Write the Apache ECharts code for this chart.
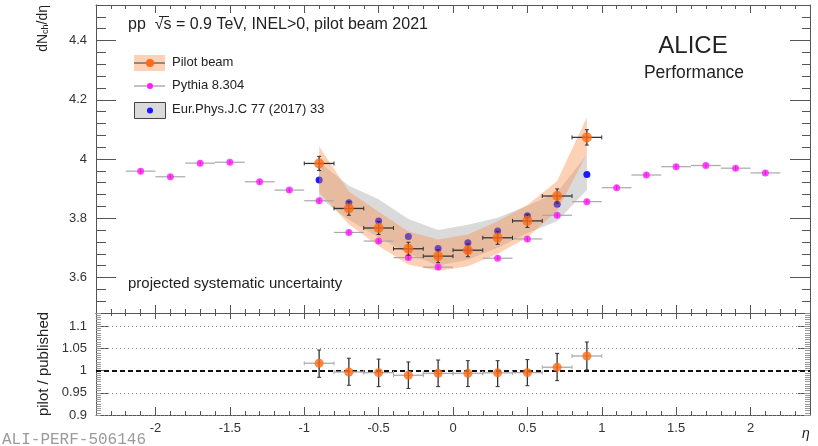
<!DOCTYPE html>
<html><head><meta charset="utf-8">
<script src="https://cdn.jsdelivr.net/npm/echarts@6/dist/echarts.min.js"></script>
<style>html,body{margin:0;padding:0;background:#fff}#c{width:818px;height:446px}</style>
</head><body><div id="c"></div>
<script>
// ---- data ----
const etaPilot = [-0.9,-0.7,-0.5,-0.3,-0.1,0.1,0.3,0.5,0.7,0.9];
const pilotVal = [3.985,3.833,3.767,3.697,3.672,3.692,3.734,3.791,3.875,4.073];
const pilotStat = [0.024,0.023,0.022,0.022,0.022,0.022,0.022,0.022,0.024,0.026];
const pilotSysUp = [4.043,3.890,3.822,3.755,3.728,3.745,3.790,3.845,3.926,4.141];
const pilotSysDown = [3.887,3.780,3.706,3.644,3.622,3.638,3.680,3.735,3.825,4.017];
const pubVal = [3.929,3.852,3.791,3.738,3.698,3.717,3.757,3.808,3.847,3.948];
const pubSysUp = [3.990,3.910,3.864,3.797,3.760,3.778,3.802,3.842,3.887,4.015];
const pubSysDown = [3.870,3.795,3.735,3.680,3.640,3.660,3.700,3.750,3.790,3.895];
const etaPythia = [-2.1,-1.9,-1.7,-1.5,-1.3,-1.1,-0.9,-0.7,-0.5,-0.3,-0.1,0.1,0.3,0.5,0.7,0.9,1.1,1.3,1.5,1.7,1.9,2.1];
const pythiaVal = [3.959,3.940,3.986,3.989,3.923,3.895,3.859,3.752,3.723,3.667,3.635,3.691,3.665,3.730,3.810,3.856,3.903,3.946,3.974,3.978,3.969,3.953];
const pythiaStat = 0.008;
const binHalf = 0.1;
const ratioVal = [1.0167,0.997,0.9955,0.9896,0.994,0.994,0.995,0.9955,1.0077,1.033];
const ratioLo = [0.985,0.967,0.964,0.960,0.964,0.964,0.964,0.966,0.9775,1.0016];
const ratioHi = [1.0466,1.028,1.026,1.0196,1.024,1.0225,1.0225,1.025,1.039,1.0646];
const xTickLabels = [-2,-1.5,-1,-0.5,0,0.5,1,1.5,2];
const yTopTickLabels = [3.6,3.8,4,4.2,4.4];
const yBotTickLabels = [0.9,0.95,1,1.05,1.1];

// ---- ranges / minor ticks ----
const X_MIN=-2.4, X_MAX=2.4, YT_MIN=3.48, YT_MAX=4.52, YB_MIN=0.9, YB_MAX=1.13;
function steps(a,b,s){const r=[];for(let v=a;v<=b+1e-9;v+=s){r.push(Math.round(v*1000)/1000);}return r;}
const xMinor = steps(-2.3,2.3,0.1);
const yTopMinor = steps(3.48,4.52,0.04);
const yBotMinor = steps(0.9,1.13,0.005);

const FONT = '"Liberation Sans", Arial, Helvetica, sans-serif';
const AX = '#555';
function xAx(grid,pos,vals,len,line,labels){
  return {type:'value',gridIndex:grid,position:pos,min:X_MIN,max:X_MAX,
    axisLine:{show:line,onZero:false,lineStyle:{color:AX,width:1}},
    axisTick:{show:true,inside:true,length:len,customValues:vals,lineStyle:{color:AX,width:1}},
    axisLabel:labels?{show:true,customValues:xTickLabels,margin:7,color:'#333',fontSize:13,fontFamily:FONT}:{show:false},
    splitLine:{show:false}};
}
function yAx(grid,pos,min,max,vals,len,line,labels,col){
  return {type:'value',gridIndex:grid,position:pos,min:min,max:max,
    axisLine:{show:line,onZero:false,lineStyle:{color:AX,width:1}},
    axisTick:{show:true,inside:true,length:len,customValues:vals,lineStyle:{color:col||AX,width:1}},
    axisLabel:labels?{show:true,customValues:labels,margin:9,color:'#333',fontSize:13,fontFamily:FONT}:{show:false},
    splitLine:{show:false}};
}

const topPts = etaPilot.map((e,i)=>[e,pilotVal[i]]);
const pubPts = etaPilot.map((e,i)=>[e,pubVal[i]]);
const pyPts = etaPythia.map((e,i)=>[e,pythiaVal[i]]);
const ratioPts = etaPilot.map((e,i)=>[e,ratioVal[i]]);

function bandSeries(up,down,fill,z){
  return {type:'custom',xAxisIndex:0,yAxisIndex:0,z:z,silent:true,data:[[0,4]],
    renderItem:function(params,api){
      const pts=[];
      etaPilot.forEach((e,i)=>pts.push(api.coord([e,up[i]])));
      for(let i=etaPilot.length-1;i>=0;i--)pts.push(api.coord([etaPilot[i],down[i]]));
      return {type:'polygon',shape:{points:pts},style:{fill:fill}};
    }};
}
function errSeries(data,xi,yi,hcol,vcol,w,cap,z){
  return {type:'custom',xAxisIndex:xi,yAxisIndex:yi,z:z,silent:true,data:data,
    encode:{x:0,y:1},
    renderItem:function(params,api){
      const x=api.value(0),y=api.value(1),xe=api.value(2),yl=api.value(3),yh=api.value(4);
      const l=api.coord([x-xe,y]),r=api.coord([x+xe,y]),t=api.coord([x,yh]),b=api.coord([x,yl]);
      const ch=[
        {type:'line',shape:{x1:l[0],y1:l[1],x2:r[0],y2:r[1]},style:{stroke:hcol,lineWidth:w}},
        {type:'line',shape:{x1:t[0],y1:t[1],x2:b[0],y2:b[1]},style:{stroke:vcol,lineWidth:w}}
      ];
      if(cap){
        ch.push({type:'line',shape:{x1:l[0],y1:l[1]-2,x2:l[0],y2:l[1]+2},style:{stroke:hcol,lineWidth:1}});
        ch.push({type:'line',shape:{x1:r[0],y1:r[1]-2,x2:r[0],y2:r[1]+2},style:{stroke:hcol,lineWidth:1}});
        ch.push({type:'line',shape:{x1:t[0]-2,y1:t[1],x2:t[0]+2,y2:t[1]},style:{stroke:vcol,lineWidth:1}});
        ch.push({type:'line',shape:{x1:b[0]-2,y1:b[1],x2:b[0]+2,y2:b[1]},style:{stroke:vcol,lineWidth:1}});
      }
      return {type:'group',children:ch};
    }};
}

const ORANGE='#ff6a14', PINK='#ff1aff', BLUE='#1a1aff';

const option = {
  animation:false,
  backgroundColor:'#fff',
  grid:[{left:96,top:5,width:714,height:308,containLabel:false},
        {left:96,top:313,width:714,height:102,containLabel:false}],
  xAxis:[
    xAx(0,'bottom',xTickLabels,8,true,false),
    xAx(0,'bottom',xMinor,4,false,false),
    xAx(0,'top',xTickLabels,8,true,false),
    xAx(0,'top',xMinor,4,false,false),
    xAx(1,'bottom',xTickLabels,8,true,true),
    xAx(1,'bottom',xMinor,4,false,false),
    xAx(1,'top',xTickLabels,6,true,false),
    xAx(1,'top',xMinor,3,false,false)
  ],
  yAxis:[
    yAx(0,'left',YT_MIN,YT_MAX,yTopTickLabels,20,true,yTopTickLabels),
    yAx(0,'left',YT_MIN,YT_MAX,yTopMinor,10,false,null),
    yAx(0,'right',YT_MIN,YT_MAX,yTopTickLabels,20,true,null),
    yAx(0,'right',YT_MIN,YT_MAX,yTopMinor,8,false,null),
    yAx(1,'left',YB_MIN,YB_MAX,yBotTickLabels,12,true,yBotTickLabels),
    yAx(1,'left',YB_MIN,YB_MAX,yBotMinor,5,false,null,'#999'),
    yAx(1,'right',YB_MIN,YB_MAX,yBotTickLabels,12,true,null),
    yAx(1,'right',YB_MIN,YB_MAX,yBotMinor,5,false,null,'#999')
  ],
  series:[
    bandSeries(pubSysUp,pubSysDown,'#dadada',1),
    {type:'scatter',xAxisIndex:0,yAxisIndex:0,z:2,data:pubPts,symbol:'circle',symbolSize:7,itemStyle:{color:BLUE,opacity:1},silent:true},
    bandSeries(pilotSysUp,pilotSysDown,'rgba(250,140,70,0.4)',3),
    errSeries(etaPythia.map((e,i)=>[e,pythiaVal[i],binHalf,pythiaVal[i]-pythiaStat,pythiaVal[i]+pythiaStat]),0,0,'#a8a8a8','#444',1.2,false,4),
    {type:'scatter',xAxisIndex:0,yAxisIndex:0,z:5,data:pyPts,symbol:'circle',symbolSize:7,itemStyle:{color:PINK},silent:true},
    errSeries(etaPilot.map((e,i)=>[e,pilotVal[i],binHalf,pilotVal[i]-pilotStat[i],pilotVal[i]+pilotStat[i]]),0,0,'#333','#333',1.3,true,6),
    {type:'scatter',xAxisIndex:0,yAxisIndex:0,z:7,data:topPts,symbol:'circle',symbolSize:10,itemStyle:{color:ORANGE},silent:true},
    errSeries(etaPilot.map((e,i)=>[e,ratioVal[i],binHalf,ratioLo[i],ratioHi[i]]),4,4,'#aaa','#333',1.3,true,6),
    {type:'scatter',xAxisIndex:4,yAxisIndex:4,z:7,data:ratioPts,symbol:'circle',symbolSize:9,itemStyle:{color:ORANGE},silent:true,
      markLine:{silent:true,symbol:'none',label:{show:false},z:3,animation:false,
        data:[
          {yAxis:1.1,lineStyle:{color:'#888',type:[1,3],width:1}},
          {yAxis:1.05,lineStyle:{color:'#888',type:[1,3],width:1}},
          {yAxis:0.95,lineStyle:{color:'#888',type:[1,3],width:1}},
          {yAxis:0.9,lineStyle:{color:'#888',type:[1,3],width:1}},
          {yAxis:1,lineStyle:{color:'#111',type:[5,3],width:2}}
        ]}}
  ],
  graphic:[
    {type:'text',left:128,top:17,style:{text:'pp  \u221As = 0.9 TeV, INEL>0, pilot beam 2021',font:'16px '+FONT,fill:'#222'}},
    {type:'line',shape:{x1:159,y1:16.5,x2:169,y2:16.5},style:{stroke:'#222',lineWidth:1}},
    // legend
    {type:'rect',shape:{x:134,y:55,width:31,height:16},style:{fill:'rgba(250,140,70,0.4)'}},
    {type:'line',shape:{x1:134,y1:63,x2:165,y2:63},style:{stroke:'#555',lineWidth:1.2}},
    {type:'circle',shape:{cx:150,cy:63,r:4},style:{fill:ORANGE}},
    {type:'text',left:172,top:56,style:{text:'Pilot beam',font:'13px '+FONT,fill:'#222'}},
    {type:'line',shape:{x1:134,y1:86,x2:165,y2:86},style:{stroke:'#999',lineWidth:1.2}},
    {type:'circle',shape:{cx:150,cy:86,r:3},style:{fill:PINK}},
    {type:'text',left:172,top:79,style:{text:'Pythia 8.304',font:'13px '+FONT,fill:'#222'}},
    {type:'rect',shape:{x:134.5,y:102.5,width:31,height:16},style:{fill:'#dadada',stroke:'#444',lineWidth:1}},
    {type:'circle',shape:{cx:150,cy:110.5,r:3},style:{fill:BLUE}},
    {type:'text',left:172,top:103,style:{text:'Eur.Phys.J.C 77 (2017) 33',font:'13px '+FONT,fill:'#222'}},
    // ALICE
    {type:'text',x:693,y:46,style:{text:'ALICE',font:'24px '+FONT,fill:'#222',align:'center',verticalAlign:'middle',textAlign:'center',textVerticalAlign:'middle'}},
    {type:'text',x:694,y:73,style:{text:'Performance',font:'17.5px '+FONT,fill:'#222',align:'center',verticalAlign:'middle',textAlign:'center',textVerticalAlign:'middle'}},
    {type:'text',left:128,top:276,style:{text:'projected systematic uncertainty',font:'15px '+FONT,fill:'#222'}},
    // axis titles
    {type:'text',x:43,y:5,rotation:Math.PI/2,style:{text:'dN{s|ch}/d\u03b7',font:'14px '+FONT,fill:'#222',align:'right',verticalAlign:'middle',textAlign:'right',textVerticalAlign:'middle',
      rich:{s:{fontSize:9,fontFamily:FONT,verticalAlign:'bottom',padding:[5,0,0,0]}}}},
    {type:'text',x:44,y:364,rotation:Math.PI/2,style:{text:'pilot / published',font:'15px '+FONT,fill:'#222',align:'center',verticalAlign:'middle',textAlign:'center',textVerticalAlign:'middle'}},
    {type:'text',x:806,y:434,style:{text:'\u03b7',font:'italic 14px '+FONT,fill:'#222',align:'center',verticalAlign:'middle',textAlign:'center',textVerticalAlign:'middle'}},
    {type:'text',left:2,top:432,style:{text:'ALI-PERF-506146',font:'16px "Liberation Mono", "DejaVu Sans Mono", monospace',fill:'#9a9a9a'}}
  ]
};
const chart = echarts.init(document.getElementById('c'),null,{renderer:'canvas'});
chart.setOption(option);
</script></body></html>
